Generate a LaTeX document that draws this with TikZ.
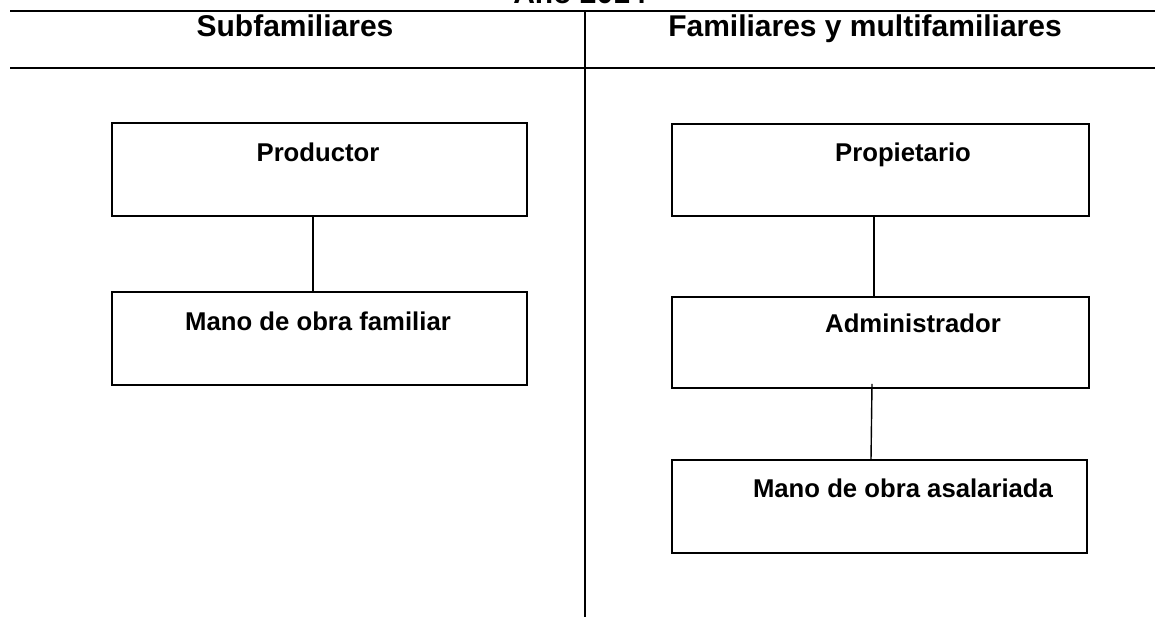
\documentclass[tikz,border=0pt]{standalone}
\usepackage{fontspec}
\setmainfont{Liberation Sans}
\begin{document}
\begin{tikzpicture}[x=1pt,y=-1pt,
  box/.style={draw, line width=1.6pt, inner sep=0pt},
  conn/.style={draw, line width=1.4pt},
  rule/.style={draw, line width=1.6pt},
  head/.style={font=\bfseries\fontsize{30}{36}\selectfont, anchor=base, inner sep=0pt},
  lbl/.style={font=\bfseries\fontsize{25.7}{30}\selectfont, anchor=base, inner sep=0pt}]
\useasboundingbox (0,0) rectangle (1155,617);
\clip (0,0) rectangle (1155,617);
\fill[white] (0,0) rectangle (1155,617);
% title (cut at top)
\node[head] (title) at (580,4) {Año 2014};
% rules
\coordinate (t1) at (10,11); \coordinate (t2) at (1155,11);
\coordinate (h1) at (10,68); \coordinate (h2) at (1155,68);
\coordinate (v1) at (585,11); \coordinate (v2) at (585,617);
\draw[rule] (t1) -- (t2);
\draw[rule] (h1) -- (h2);
\draw[line width=1.3pt] (v1) -- (v2);
% headings
\node[head] (hs) at (295,37) {Subfamiliares};
\node[head] (hf) at (865,37) {Familiares y multifamiliares};
% left boxes
\node[box, minimum width=415pt, minimum height=93pt] (prod) at (319.5,169.5) {};
\node[box, minimum width=415pt, minimum height=93pt] (mof) at (319.5,338.5) {};
\node[lbl] (prodt) at (318,162) {Productor};
\node[lbl] (moft) at (318,330) {Mano de obra familiar};
% right boxes
\node[box, minimum width=417pt, minimum height=92pt] (prop) at (880.5,170) {};
\node[box, minimum width=417pt, minimum height=91pt] (adm) at (880.5,342.5) {};
\node[box, minimum width=415pt, minimum height=93pt] (asal) at (879.5,506.5) {};
\node[lbl] (propt) at (903,162) {Propietario};
\node[lbl] (admt) at (913,332) {Administrador};
\node[lbl] (asalt) at (903,497) {Mano de obra asalariada};
% connectors
\draw[conn] ([xshift=-6.5pt]prod.south) -- ([xshift=-6.5pt]mof.north);
\draw[conn] ([xshift=-6.5pt]prop.south) -- ([xshift=-6.5pt]adm.north);
\draw[conn] ([xshift=-8.5pt,yshift=5pt]adm.south) -- ([xshift=-8.5pt]asal.north);
\end{tikzpicture}
\end{document}
